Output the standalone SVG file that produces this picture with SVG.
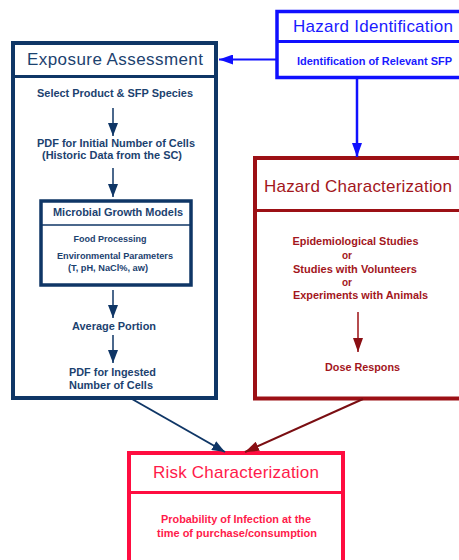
<svg xmlns="http://www.w3.org/2000/svg" width="459" height="560" viewBox="0 0 459 560">
<style>
  text { font-family: "Liberation Sans", Arial, sans-serif; }
  .title { font-size: 17px; }
  .body { font-size: 10.5px; font-weight: bold; }
  .small { font-size: 9px; font-weight: bold; }
  .navy { fill: #1c426f; }
  .blue { fill: #1a1aff; }
  .red { fill: #a3161c; }
  .pink { fill: #ff1a4a; }
  .box { fill: #ffffff; }
</style>
<defs>
  <marker id="hNavy" markerUnits="userSpaceOnUse" markerWidth="14" markerHeight="10" refX="13" refY="5" orient="auto">
    <path d="M0,0 L13,5 L0,10 Z" fill="#0f3666"/>
  </marker>
  <marker id="hBlue" markerUnits="userSpaceOnUse" markerWidth="15" markerHeight="10" refX="14" refY="5" orient="auto">
    <path d="M0,0 L14,5 L0,10 Z" fill="#1010ff"/>
  </marker>
  <marker id="hRed" markerUnits="userSpaceOnUse" markerWidth="15" markerHeight="10" refX="14" refY="5" orient="auto">
    <path d="M0,0 L14,5 L0,10 Z" fill="#8a0f14"/>
  </marker>
</defs>

<g id="exposure-assessment">
  <rect x="13" y="43" width="203" height="355" class="box" stroke="#0f3666" stroke-width="4"/>
  <line x1="13" y1="76.5" x2="216" y2="76.5" stroke="#0f3666" stroke-width="3"/>
  <text x="115" y="65" text-anchor="middle" class="title navy" textLength="176" lengthAdjust="spacing">Exposure Assessment</text>
  <text x="115" y="97" text-anchor="middle" class="body navy" textLength="156" lengthAdjust="spacingAndGlyphs">Select Product &amp; SFP Species</text>
  <text x="116" y="146.5" text-anchor="middle" class="body navy" textLength="158" lengthAdjust="spacingAndGlyphs">PDF for Initial Number of Cells</text>
  <text x="112" y="158.5" text-anchor="middle" class="body navy" textLength="140" lengthAdjust="spacingAndGlyphs">(Historic Data from the SC)</text>
  <text x="114" y="330" text-anchor="middle" class="body navy" textLength="84" lengthAdjust="spacingAndGlyphs">Average Portion</text>
  <text x="69" y="376" class="body navy" textLength="87" lengthAdjust="spacingAndGlyphs">PDF for Ingested</text>
  <text x="69" y="389" class="body navy" textLength="84" lengthAdjust="spacingAndGlyphs">Number of Cells</text>
</g>

<g id="microbial-growth-models">
  <rect x="41" y="201" width="150" height="84" class="box" stroke="#0f3666" stroke-width="3.5"/>
  <line x1="41" y1="225" x2="191" y2="225" stroke="#0f3666" stroke-width="1.5"/>
  <text x="118" y="216" text-anchor="middle" class="body navy" textLength="130" lengthAdjust="spacingAndGlyphs">Microbial Growth Models</text>
  <text x="110" y="241.5" text-anchor="middle" class="small navy" textLength="73" lengthAdjust="spacingAndGlyphs">Food Processing</text>
  <text x="115" y="259" text-anchor="middle" class="small navy" textLength="116" lengthAdjust="spacingAndGlyphs">Environmental Parameters</text>
  <text x="108" y="271" text-anchor="middle" class="small navy" textLength="80" lengthAdjust="spacingAndGlyphs">(T, pH, NaCl%, aw)</text>
</g>

<g id="hazard-identification">
  <rect x="277" y="11.5" width="200" height="66" class="box" stroke="#1010ff" stroke-width="3.5"/>
  <line x1="277" y1="41.5" x2="477" y2="41.5" stroke="#1010ff" stroke-width="3"/>
  <text x="373" y="32" text-anchor="middle" class="title blue" textLength="160" lengthAdjust="spacing">Hazard Identification</text>
  <text x="374.5" y="65" text-anchor="middle" class="body blue" textLength="155" lengthAdjust="spacingAndGlyphs">Identification of Relevant SFP</text>
</g>

<g id="hazard-characterization">
  <rect x="255" y="158" width="220" height="240.5" class="box" stroke="#9c1015" stroke-width="4"/>
  <line x1="255" y1="210.5" x2="475" y2="210.5" stroke="#9c1015" stroke-width="3"/>
  <text x="358" y="192" text-anchor="middle" class="title red" font-size="18" textLength="188" lengthAdjust="spacing">Hazard Characterization</text>
  <text x="292.5" y="245" class="body red" textLength="126" lengthAdjust="spacingAndGlyphs">Epidemiological Studies</text>
  <text x="342" y="259" class="body red" textLength="10" lengthAdjust="spacingAndGlyphs">or</text>
  <text x="293" y="272.5" class="body red" textLength="124" lengthAdjust="spacingAndGlyphs">Studies with Volunteers</text>
  <text x="342" y="286" class="body red" textLength="10" lengthAdjust="spacingAndGlyphs">or</text>
  <text x="293" y="299" class="body red" textLength="135" lengthAdjust="spacingAndGlyphs">Experiments with Animals</text>
  <text x="362.5" y="371" text-anchor="middle" class="body red" textLength="75" lengthAdjust="spacingAndGlyphs">Dose Respons</text>
  <line x1="358" y1="312" x2="358" y2="352" stroke="#9c1015" stroke-width="1.5" marker-end="url(#hRed)"/>
</g>

<g id="risk-characterization">
  <rect x="129" y="453" width="214" height="120" class="box" stroke="#ff0d40" stroke-width="4"/>
  <line x1="129" y1="492.5" x2="343" y2="492.5" stroke="#ff0d40" stroke-width="3"/>
  <text x="236" y="478" text-anchor="middle" class="title pink" font-size="18" textLength="166" lengthAdjust="spacing">Risk Characterization</text>
  <text x="236" y="523" text-anchor="middle" class="body pink" textLength="150" lengthAdjust="spacingAndGlyphs">Probability of Infection at the</text>
  <text x="237" y="537" text-anchor="middle" class="body pink" textLength="160" lengthAdjust="spacingAndGlyphs">time of purchase/consumption</text>
</g>

<g id="connectors" fill="none">
  <line x1="113" y1="108" x2="113" y2="136" stroke="#0f3666" stroke-width="1.5" marker-end="url(#hNavy)"/>
  <line x1="113" y1="168" x2="113" y2="197" stroke="#0f3666" stroke-width="1.5" marker-end="url(#hNavy)"/>
  <line x1="113" y1="290" x2="113" y2="318" stroke="#0f3666" stroke-width="1.5" marker-end="url(#hNavy)"/>
  <line x1="113" y1="335" x2="113" y2="363" stroke="#0f3666" stroke-width="1.5" marker-end="url(#hNavy)"/>
  <line x1="277" y1="59.5" x2="219" y2="59.5" stroke="#1010ff" stroke-width="2" marker-end="url(#hBlue)"/>
  <line x1="357" y1="78" x2="357" y2="157" stroke="#1010ff" stroke-width="2.5" marker-end="url(#hBlue)"/>
  <line x1="132" y1="399" x2="225" y2="452" stroke="#0f3666" stroke-width="2" marker-end="url(#hNavy)"/>
  <line x1="363" y1="399" x2="245" y2="452" stroke="#7a0e12" stroke-width="2" marker-end="url(#hRed)"/>
</g>
</svg>
